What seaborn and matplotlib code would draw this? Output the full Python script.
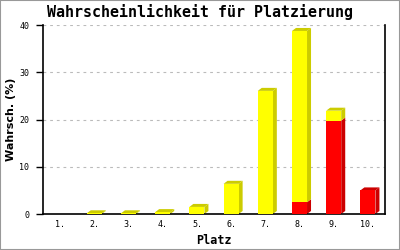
import matplotlib
matplotlib.use("Agg")
import matplotlib.pyplot as plt
import seaborn as sns
import numpy as np
from matplotlib.patches import Polygon, Rectangle
from matplotlib.transforms import IdentityTransform

categories = ["1.", "2.", "3.", "4.", "5.", "6.", "7.", "8.", "9.", "10."]
red_values = [0, 0, 0, 0, 0, 0, 0, 2.5, 19.8, 5.0]
yellow_values = [0, 0.15, 0.15, 0.4, 1.5, 6.4, 26.1, 36.3, 2.1, 0]
totals = [r + y for r, y in zip(red_values, yellow_values)]

title = "Wahrscheinlichkeit für Platzierung"
xlabel = "Platz"
ylabel = "Wahrsch. (%)"
yticks = [0, 10, 20, 30, 40]

YELLOW = "#FFFF00"
YELLOW_DARK = "#CCCC00"
RED = "#FF0000"
RED_DARK = "#CC0000"

sns.set_style("white")
plt.rcParams["font.family"] = ["DejaVu Sans Mono", "DejaVu Sans"]
plt.rcParams["text.color"] = "black"
plt.rcParams["axes.labelcolor"] = "black"
plt.rcParams["xtick.color"] = "black"
plt.rcParams["ytick.color"] = "black"

fig = plt.figure(figsize=(4, 2.5), dpi=100)
ax = fig.add_axes([43 / 400, 1 - 214 / 250, (385 - 43) / 400, (214 - 25.3) / 250])

sns.barplot(x=categories, y=totals, color=YELLOW, saturation=1, width=0.44,
            linewidth=0, ax=ax, zorder=3)
n = len(categories)
yellow_patches = list(ax.patches)[:n]
sns.barplot(x=categories, y=red_values, color=RED, saturation=1, width=0.44,
            linewidth=0, ax=ax, zorder=3)
red_patches = list(ax.patches)[n:2 * n]

ax.set_ylim(0, 40)
ax.set_xlim(-0.5, n - 0.5)
ax.set_yticks(yticks)
ax.set_yticklabels([str(t) for t in yticks], fontsize=6)
ax.tick_params(axis="y", which="both", left=True, length=5, width=1, pad=5,
               direction="out", color="black", labelcolor="black")
ax.tick_params(axis="x", length=0, pad=4, labelsize=6, labelcolor="black")

ax.yaxis.grid(True, color="#bbbbbb", linestyle=(0, (2.5, 3.5)), linewidth=0.8, zorder=0)
ax.xaxis.grid(False)
ax.set_axisbelow(True)

for s in ["left", "bottom", "right"]:
    ax.spines[s].set_visible(True)
    ax.spines[s].set_color("black")
    ax.spines[s].set_linewidth(1.2)
ax.spines["top"].set_visible(False)

fig.canvas.draw()
dx, dy = 4, 3
trans = ax.transData

def draw_face(pts, color):
    poly = Polygon(pts, closed=True, facecolor=color, edgecolor="none",
                   transform=IdentityTransform(), zorder=2.5)
    ax.add_artist(poly)

for yp, rp in zip(yellow_patches, red_patches):
    x0 = yp.get_x()
    w = yp.get_width()
    total = yp.get_height()
    rh = rp.get_height()
    if total <= 0:
        continue
    segs = []
    if rh > 0:
        segs.append((0, rh, RED_DARK))
    if total > rh:
        segs.append((rh, total, YELLOW_DARK))
    for b, t, col in segs:
        (px0, pb), (px1, pt) = trans.transform([(x0, b), (x0 + w, t)])
        draw_face([(px1, pb), (px1 + dx, pb + dy), (px1 + dx, pt + dy), (px1, pt)], col)
    (px0, _), (px1, pt) = trans.transform([(x0, total), (x0 + w, total)])
    topcol = YELLOW_DARK if total > rh else RED_DARK
    draw_face([(px0, pt), (px1, pt), (px1 + dx, pt + dy), (px0 + dx, pt + dy)], topcol)

fig.text(0.5, 1 - 12.5 / 250, title, fontsize=10.8, fontweight="bold",
         family="DejaVu Sans Mono", ha="center", va="center", color="black")
ax.set_xlabel(xlabel, fontsize=8.5, fontweight="bold", family="DejaVu Sans Mono", labelpad=4)
ax.set_ylabel(ylabel, fontsize=8, fontweight="bold", family="DejaVu Sans", labelpad=2.5)

fig.patches.append(Rectangle((0, 0), 1, 1, transform=fig.transFigure, fill=False,
                             edgecolor="#999999", linewidth=1.5))

fig.savefig("out.png", dpi=100)
